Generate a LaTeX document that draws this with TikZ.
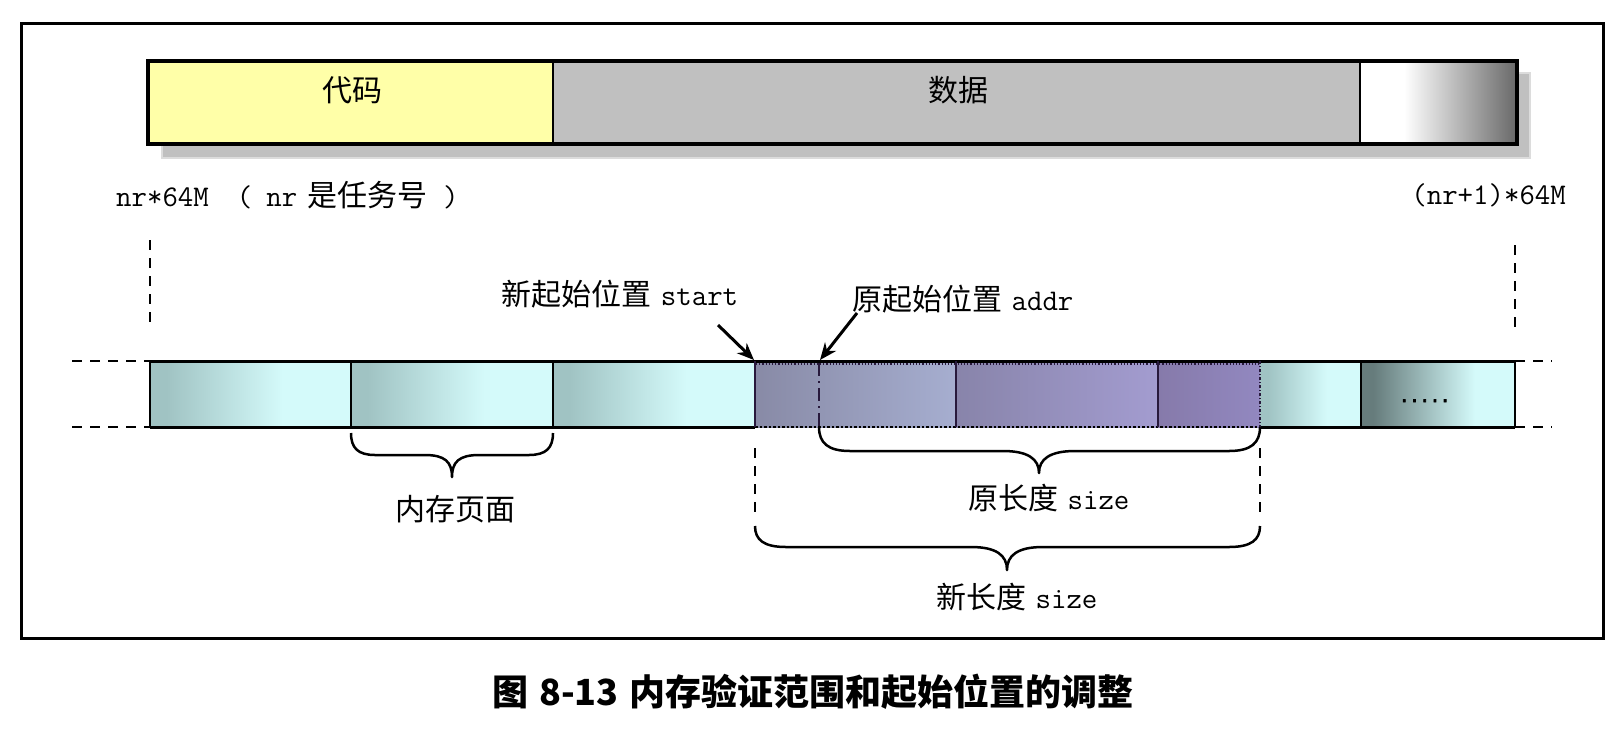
\documentclass[tikz,border=0pt]{standalone}
\usepackage{fontspec}
\newfontfamily\cjk{Noto Sans CJK SC}
\newfontfamily\dotfont{Liberation Mono}[FakeBold=5]
\usetikzlibrary{arrows.meta}
\newcommand{\zhtext}[1]{{\cjk #1}}
\newcommand{\lat}[1]{{\ttfamily #1}}
\definecolor{yel}{HTML}{FFFFA8}
\definecolor{gry}{HTML}{C0C0C0}
\definecolor{tealL}{RGB}{160,195,195}
\definecolor{cyanL}{RGB}{212,250,250}
\definecolor{darkT}{RGB}{102,124,124}
\definecolor{puA}{RGB}{136,138,166}
\definecolor{puB}{RGB}{166,174,208}
\definecolor{puC}{RGB}{136,132,170}
\definecolor{puD}{RGB}{163,156,208}
\definecolor{puE}{RGB}{134,122,170}
\definecolor{puF}{RGB}{146,136,192}
\definecolor{puLine}{RGB}{40,25,60}
\pgfdeclarehorizontalshading{pagesh}{100bp}{color(0bp)=(tealL); color(29bp)=(tealL); color(58bp)=(cyanL); color(100bp)=(cyanL)}
\pgfdeclarehorizontalshading{lastsh}{100bp}{color(0bp)=(darkT); color(29bp)=(darkT); color(62bp)=(cyanL); color(100bp)=(cyanL)}
\tikzset{
  lbl/.style={font=\fontsize{30}{30}\selectfont, inner sep=0pt},
  brc/.style={line width=2.5pt, line join=round},
  dsh/.style={line width=2pt, dash pattern=on 10pt off 8pt},
  arr/.style={line width=3pt, -{Stealth[length=17pt,width=14pt]}},
  thickln/.style={line width=3pt},
  divln/.style={line width=2.5pt}
}
\begin{document}
\begin{tikzpicture}[x=1pt,y=-1pt]
\useasboundingbox (0,0) rectangle (1624,732);
% frame
\draw[line width=3pt] (21,23) rectangle (1603,638);

% top bar
\filldraw[fill=gry, draw=gry!55, line width=1.5pt] (162,73) rectangle (1530,158);
\fill[yel] (148,61) rectangle (553,144);
\fill[gry] (553,61) rectangle (1360,144);
\fill[white] (1360,61) rectangle (1404,144);
\shade[left color=white, right color=black!58] (1404,63) rectangle (1515,142);
\draw[line width=1.8pt] (553,61) -- (553,144) (1360,61) -- (1360,144);
\draw[line width=4pt] (148,61) rectangle (1517,144);
\node[lbl] (code) at (352,90) {\zhtext{代码}};
\node[lbl] (data) at (958,90) {\zhtext{数据}};

% addresses
\node[lbl, anchor=west] (lo) at (116,195) {\lat{nr*64M}\hspace{28pt}\lat{(}\hspace{14pt}\lat{nr}\hspace{10pt}\zhtext{是任务号}\hspace{16pt}\lat{)}};
\node[lbl, anchor=east] (hi) at (1566,195) {\lat{(nr+1)*64M}};
\draw[dsh] (150,240) -- (150,324);
\draw[dsh] (1515,245) -- (1515,329);

% lower bar cells
\shade[shading=pagesh] (150,361) rectangle (351,427);
\shade[shading=pagesh] (351,361) rectangle (553,427);
\shade[shading=pagesh] (553,361) rectangle (755,427);
\shade[left color=puA, right color=puB] (755,361) rectangle (956,427);
\shade[left color=puC, right color=puD] (956,361) rectangle (1158,427);
\shade[left color=puE, right color=puF] (1158,361) rectangle (1260,427);
\shade[shading=pagesh] (1260,361) rectangle (1361,427);
\shade[shading=lastsh] (1361,361) rectangle (1515,427);
\node[font=\fontsize{17}{17}\selectfont\dotfont, inner sep=0pt, anchor=base west] (more) at (1399,402) {.....};

% lower bar lines
\draw[line width=1.2pt, dotted, puLine] (756,364) -- (1259,364);
\draw[thickln] (150,361) -- (1515,361);
\draw[thickln] (150,427) -- (755,427) (1260,427) -- (1515,427);
\draw[line width=2.5pt, dotted] (755,427) -- (1260,427);
\draw[divln] (150,361) -- (150,427) (351,361) -- (351,427) (553,361) -- (553,427)
            (1361,361) -- (1361,427) (1515,361) -- (1515,427);
\draw[line width=1.5pt, puLine] (755,361) -- (755,427);
\draw[line width=2pt, puLine] (956,361) -- (956,427) (1158,361) -- (1158,427);
\draw[line width=2pt, dash pattern=on 3pt off 2pt on 1pt off 2pt, puLine] (1260,361) -- (1260,427);
\draw[line width=2pt, puLine, dash pattern=on 13pt off 5pt on 2pt off 5pt] (819,363) -- (819,427);

% dashed extensions
\draw[dsh] (72,361) -- (150,361) (72,427) -- (150,427);
\draw[dsh] (1515,361) -- (1552,361) (1515,427) -- (1552,427);

% start / addr labels and arrows
\node[lbl] (newstart) at (620,294) {\zhtext{新起始位置} \lat{start}};
\node[lbl] (oldaddr) at (963,299) {\zhtext{原起始位置} \lat{addr}};
\coordinate (s1) at (718,325);
\coordinate (s2) at (754,360);
\coordinate (a1) at (857,313);
\coordinate (a2) at (820,360);
\draw[arr] (s1) -- (s2);
\draw[arr] (a1) -- (a2);

% brace 1: memory page
\coordinate (b1a) at (351,433);
\coordinate (b1b) at (553,433);
\coordinate (b1t) at (452,477);
\draw[brc] (b1a) .. controls (351,448) and (358,455) .. (375,455) -- (425,455)
  .. controls (445,455) and (452,462) .. (b1t)
  .. controls (452,462) and (459,455) .. (479,455) -- (529,455)
  .. controls (546,455) and (553,448) .. (b1b);
\node[lbl] (page) at (455,509) {\zhtext{内存页面}};

% dashed guides for new range
\draw[dsh] (755,448) -- (755,512);
\draw[dsh] (1260,448) -- (1260,512);

% brace 2: old size
\coordinate (b2a) at (819,427);
\coordinate (b2b) at (1260,427);
\coordinate (b2t) at (1039,473);
\draw[brc] (b2a) .. controls (819,443) and (828,451) .. (850,451) -- (1003,451)
  .. controls (1028,451) and (1039,459) .. (b2t)
  .. controls (1039,459) and (1050,451) .. (1075,451) -- (1229,451)
  .. controls (1251,451) and (1260,443) .. (b2b);
\node[lbl] (oldsize) at (1049,498) {\zhtext{原长度} \lat{size}};

% brace 3: new size
\coordinate (b3a) at (755,526);
\coordinate (b3b) at (1260,526);
\coordinate (b3t) at (1007,570);
\draw[brc] (b3a) .. controls (755,540) and (764,547) .. (786,547) -- (971,547)
  .. controls (996,547) and (1007,555) .. (b3t)
  .. controls (1007,555) and (1018,547) .. (1043,547) -- (1229,547)
  .. controls (1251,547) and (1260,540) .. (b3b);
\node[lbl] (newsize) at (1017,597) {\zhtext{新长度} \lat{size}};

% caption
\node[font=\fontsize{36}{36}\selectfont\cjk\bfseries, inner sep=0pt] (cap) at (813,692) {图\hspace{0.3em}8-13\hspace{0.3em}内存验证范围和起始位置的调整};
\end{tikzpicture}
\end{document}
